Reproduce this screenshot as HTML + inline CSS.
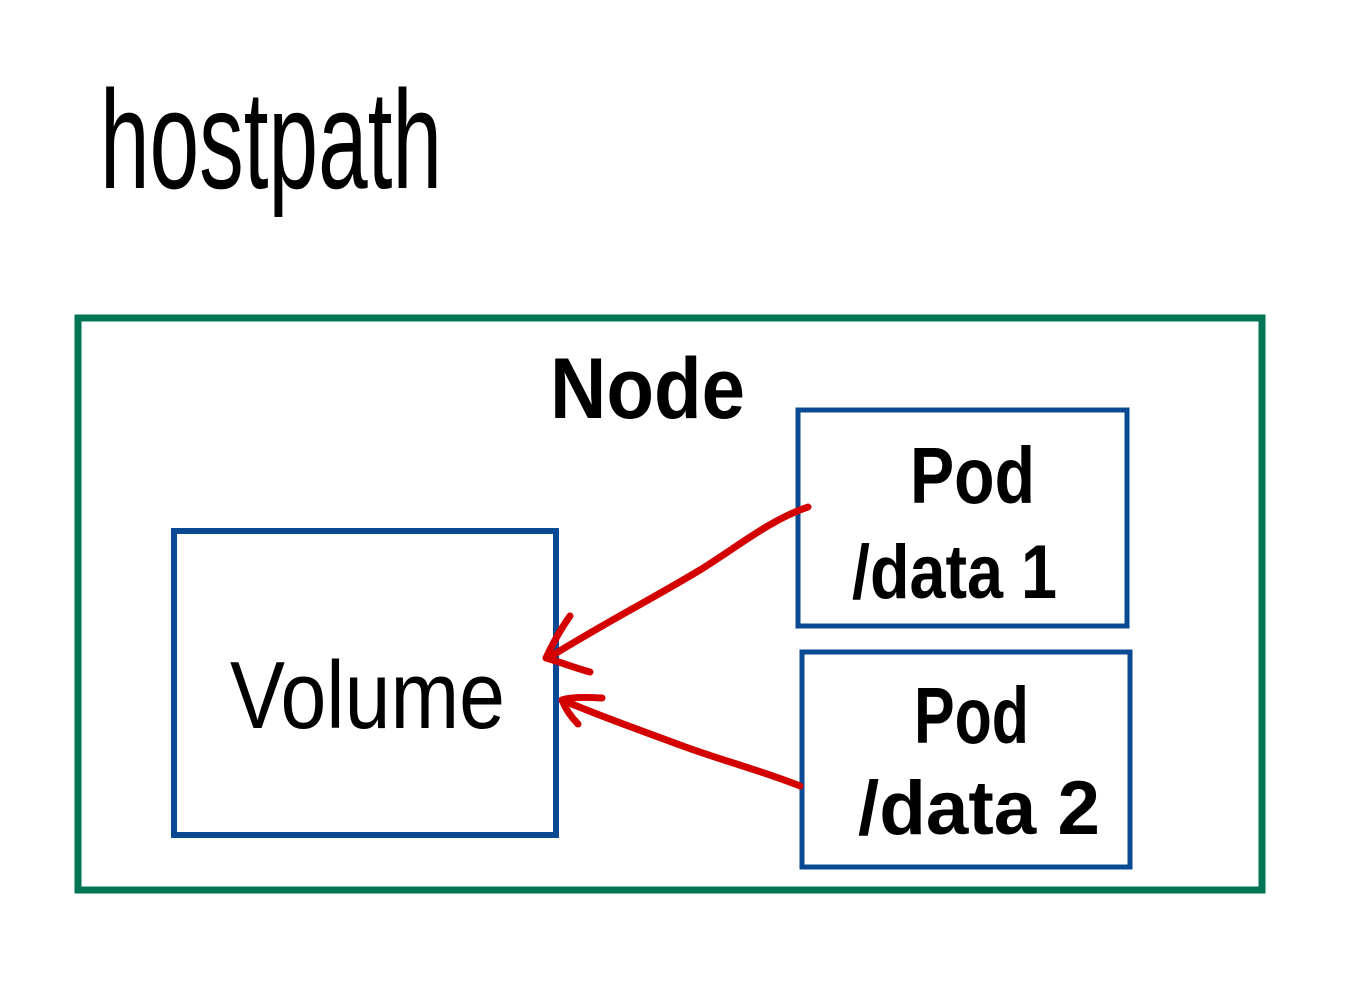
<!DOCTYPE html>
<html><head><meta charset="utf-8"><style>
html,body{margin:0;padding:0;background:#fff;}
svg{display:block;}
text{font-family:"Liberation Sans",sans-serif;fill:#000;}
</style></head><body>
<svg width="1363" height="1000" viewBox="0 0 1363 1000" xmlns="http://www.w3.org/2000/svg">
<rect x="0" y="0" width="1363" height="1000" fill="#fff"/>
<text x="100" y="188" font-size="140" textLength="342" lengthAdjust="spacingAndGlyphs">hostpath</text>
<rect x="78" y="318" width="1184" height="572" fill="none" stroke="#007555" stroke-width="7"/>
<text x="550" y="418" font-size="86" font-weight="bold" textLength="195" lengthAdjust="spacingAndGlyphs">Node</text>
<rect x="174" y="531" width="382" height="304" fill="none" stroke="#0a4a94" stroke-width="6"/>
<text x="230" y="728" font-size="96" textLength="275" lengthAdjust="spacingAndGlyphs">Volume</text>
<rect x="798" y="410" width="329" height="216" fill="none" stroke="#0a4a94" stroke-width="5"/>
<text x="910" y="503" font-size="80" font-weight="bold" textLength="125" lengthAdjust="spacingAndGlyphs">Pod</text>
<text x="852" y="598" font-size="76" font-weight="bold" textLength="205" lengthAdjust="spacingAndGlyphs">/data 1</text>
<rect x="802" y="652" width="328" height="215" fill="none" stroke="#0a4a94" stroke-width="5"/>
<text x="914" y="743" font-size="80" font-weight="bold" textLength="115" lengthAdjust="spacingAndGlyphs">Pod</text>
<text x="858" y="834" font-size="76" font-weight="bold" textLength="242" lengthAdjust="spacingAndGlyphs">/data 2</text>
<g fill="none" stroke="#d40000" stroke-width="7" stroke-linecap="round" stroke-linejoin="round">
<path d="M808 507 C770 520 740 545 700 570 C650 600 610 620 548 658"/>
<path d="M570 616 C560 630 552 645 546 658 C560 662 575 668 590 672"/>
<path d="M800 786 C760 770 720 760 680 745 C640 730 610 720 562 700"/>
<path d="M602 698 C585 697 570 697 562 700 C566 710 572 718 578 724"/>
</g>
</svg>
</body></html>
